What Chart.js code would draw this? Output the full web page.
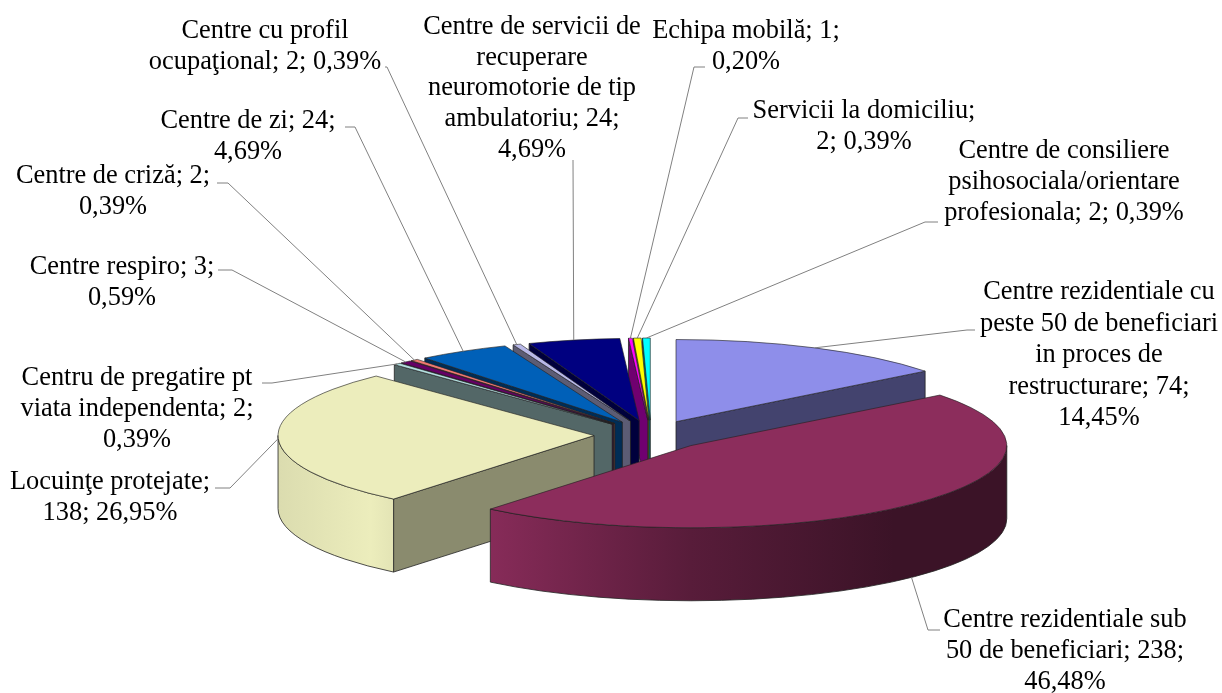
<!DOCTYPE html>
<html>
<head>
<meta charset="utf-8">
<style>html,body{margin:0;padding:0;background:#fff}canvas{display:block}</style>
<script src="https://cdn.jsdelivr.net/npm/chart.js@4"></script>
</head>
<body>
<canvas id="c" width="1222" height="693"></canvas>
<script>
const categories = [
  "Centre rezidentiale cu peste 50 de beneficiari in proces de restructurare",
  "Centre rezidentiale sub 50 de beneficiari",
  "Locuinţe protejate",
  "Centru de pregatire pt viata independenta",
  "Centre respiro",
  "Centre de criză",
  "Centre de zi",
  "Centre cu profil ocupaţional",
  "Centre de servicii de recuperare neuromotorie de tip ambulatoriu",
  "Echipa mobilă",
  "Servicii la domiciliu",
  "Centre de consiliere psihosociala/orientare profesionala"
];
const values = [74, 238, 138, 2, 3, 2, 24, 2, 24, 1, 2, 2];
const percents = ["14,45%", "46,48%", "26,95%", "0,39%", "0,59%", "0,39%", "4,69%", "0,39%", "4,69%", "0,20%", "0,39%", "0,39%"];
const colors = ["#8e8eea", "#8c2d5c", "#ecedbc", "#b4e0e0", "#660066", "#f07a70", "#0060b8", "#b8b8e8", "#000080", "#ff00ff", "#ffff00", "#00ffff"];

// Presentation settings (not data)
const RADIUS = 316, TILT = 0.26, DEPTH = 73, EXPLODE = 57;
const drawOrder = [0, 11, 10, 9, 8, 7, 6, 5, 4, 3, 2, 1];
const faceShade = [.47, .47, .585, .46, .47, .47, .47, .5, .47, .44, .47, .47];
const bandShade = [[0, .42], [50, .42], [90, .63], [135, 1], [180, .93]];
const labelLayout = [
  {words:[3,4,3,2,1], cx:1099, y:292, lh:31.6, elbow:[967,330], end:[975,330]},
  {words:[3,4,1], cx:1065, y:620, lh:31, elbow:[928,630], end:[940,630], base:true},
  {words:[2,2], cx:110, y:482, lh:31, elbow:[230,488], end:[215,488]},
  {words:[4,3,1], cx:137, y:378, lh:31, elbow:[272,383], end:[262,383]},
  {words:[3,1], cx:122, y:267, lh:31, elbow:[232,270], end:[218,270]},
  {words:[4,1], cx:113, y:176, lh:31, elbow:[228,183], end:[217,183]},
  {words:[4,1], cx:248, y:121, lh:31, elbow:[355,127], end:[345,127]},
  {words:[3,3], cx:265, y:31, lh:31, elbow:[387,67], end:[385,67]},
  {words:[4,1,3,2,1], cx:532, y:27, lh:30.7, elbow:[573,160], end:[573,160]},
  {words:[3,1], cx:746, y:31, lh:31, elbow:[694,67], end:[705,67]},
  {words:[3,2], cx:864, y:111, lh:31, elbow:[738,118], end:[748,118]},
  {words:[3,1,3], cx:1064, y:151, lh:31, elbow:[925,222], end:[938,222]}
];
const FONT = '26.4px "Liberation Serif"';

function shade(hex, f) {
  const n = parseInt(hex.slice(1), 16);
  const c = [n >> 16 & 255, n >> 8 & 255, n & 255].map(v => Math.round(v * f));
  return `rgb(${c[0]},${c[1]},${c[2]})`;
}
function vertex(el) {
  const mid = (el.startAngle + el.endAngle) / 2;
  return {x: el.x + EXPLODE * Math.cos(mid), y: el.y + EXPLODE * Math.sin(mid) * TILT, mid};
}
function edge(v, r, a) { return {x: v.x + r * Math.cos(a), y: v.y + r * TILT * Math.sin(a)}; }

const pie3d = {
  id: 'pie3d',
  beforeDatasetsDraw(chart) {
    const ctx = chart.ctx, meta = chart.getDatasetMeta(0);
    ctx.save();
    drawOrder.forEach(i => {
      const el = meta.data[i], v = vertex(el), r = el.outerRadius;
      const a = el.startAngle, b = el.endAngle;
      ctx.lineWidth = 0.8; ctx.strokeStyle = '#222'; ctx.lineJoin = 'round';
      const face = ang => {
        const p = edge(v, r, ang);
        ctx.beginPath();
        ctx.moveTo(v.x, v.y); ctx.lineTo(p.x, p.y);
        ctx.lineTo(p.x, p.y + DEPTH); ctx.lineTo(v.x, v.y + DEPTH); ctx.closePath();
        ctx.fillStyle = shade(colors[i], faceShade[i]);
        ctx.fill(); ctx.stroke();
      };
      if (-Math.cos(a) > 1e-6) face(a);   // start face points toward the viewer
      if (Math.cos(b) > 1e-6) face(b);    // end face points toward the viewer
      const t1 = Math.max(a, 0), t2 = Math.min(b, Math.PI);
      if (t2 > t1) {
        const g = ctx.createLinearGradient(v.x + r, 0, v.x - r, 0);
        bandShade.forEach(([deg, f]) => {
          g.addColorStop((1 - Math.cos(deg * Math.PI / 180)) / 2, shade(colors[i], f));
        });
        ctx.beginPath();
        ctx.ellipse(v.x, v.y, r, r * TILT, 0, t1, t2);
        ctx.ellipse(v.x, v.y + DEPTH, r, r * TILT, 0, t2, t1, true);
        ctx.closePath();
        ctx.fillStyle = g; ctx.fill(); ctx.stroke();
      }
      ctx.save();
      ctx.translate(v.x, v.y);
      ctx.scale(1, TILT);
      ctx.translate(-el.x, -el.y);
      el.draw(ctx);
      ctx.restore();
    });
    ctx.restore();
    return false;
  },
  afterDraw(chart) {
    const ctx = chart.ctx, meta = chart.getDatasetMeta(0);
    ctx.save();
    ctx.strokeStyle = '#808080'; ctx.lineWidth = 1;
    labelLayout.forEach((l, i) => {
      const el = meta.data[i], v = vertex(el);
      const p = edge(v, el.outerRadius, v.mid);
      ctx.beginPath();
      ctx.moveTo(p.x, p.y + (l.base ? DEPTH : 0));
      ctx.lineTo(l.elbow[0], l.elbow[1]);
      ctx.lineTo(l.end[0], l.end[1]);
      ctx.stroke();
    });
    ctx.fillStyle = '#000'; ctx.font = FONT;
    ctx.textAlign = 'center'; ctx.textBaseline = 'middle';
    labelLayout.forEach((l, i) => {
      const words = `${categories[i]}; ${values[i]}; ${percents[i]}`.split(' ');
      let w = 0;
      l.words.forEach((n, k) => {
        ctx.fillText(words.slice(w, w + n).join(' '), l.cx, l.y + k * l.lh);
        w += n;
      });
    });
    ctx.restore();
  }
};

new Chart(document.getElementById('c'), {
  type: 'pie',
  data: {
    labels: categories,
    datasets: [{data: values, backgroundColor: colors, borderColor: '#222', borderWidth: 1, offset: 0}]
  },
  options: {
    responsive: false,
    animation: false,
    events: [],
    radius: RADIUS,
    layout: {padding: {left: 80, top: 177, right: 0, bottom: 0}},
    plugins: {legend: {display: false}, tooltip: {enabled: false}}
  },
  plugins: [pie3d]
});
</script>
</body>
</html>
